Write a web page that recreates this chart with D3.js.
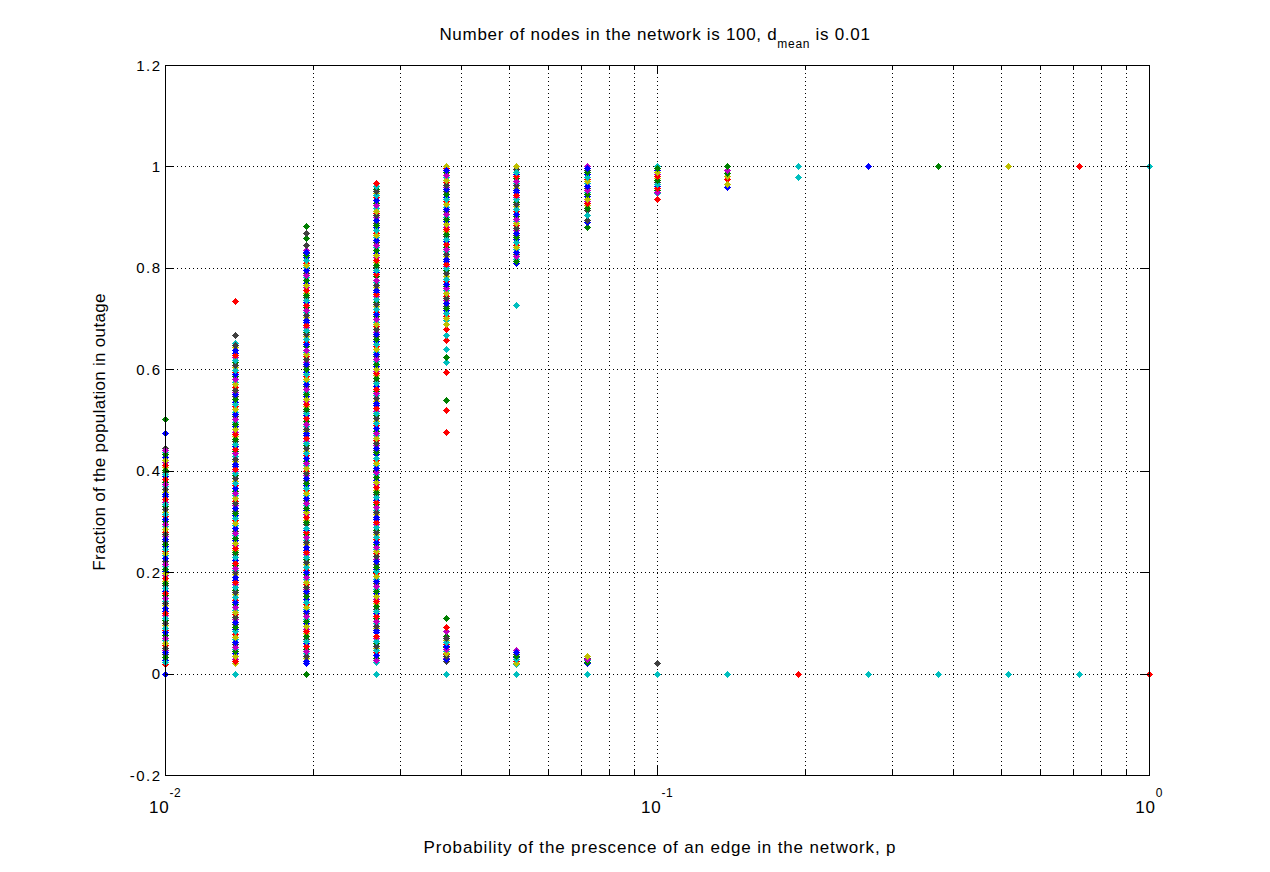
<!DOCTYPE html>
<html><head><meta charset="utf-8">
<script src="https://cdn.jsdelivr.net/npm/d3@7/dist/d3.min.js"></script>
<style>
body{margin:0;background:#fff}
text{font-family:"Liberation Sans",Arial,Helvetica,sans-serif;fill:#000}
</style>
</head><body>
<svg id="chart" width="1270" height="872"></svg>
<script>
// ---------------- DATA ----------------
const pValues = [0.01,0.01389,0.01931,0.02683,0.03728,0.05179,0.07197,0.1,0.1389,0.1931,0.2683,0.3728,0.5179,0.7197,1.0];

// dense clouds of trial outcomes (fraction in outage)
const band_p0 = [0.018,0.027,0.038,0.046,0.057,0.066,0.077,0.085,0.096,0.105,0.116,0.124,0.135,0.144,0.155,0.163,0.174,0.183,0.194,0.202,0.213,0.222,0.233,0.241,0.252,0.261,0.272,0.28,0.291,0.3,0.311,0.319,0.33,0.339,0.35,0.358,0.369,0.378,0.389,0.397,0.408,0.417,0.428,0.436,0.445];
const band_p0b = [0.022,0.032,0.042,0.051,0.061,0.071,0.081,0.09,0.1,0.11,0.12,0.129,0.139,0.149,0.159,0.168,0.178,0.188,0.198,0.207,0.217,0.227,0.237,0.246,0.256,0.266,0.276,0.285,0.295,0.305,0.315,0.324,0.334,0.344,0.354,0.363,0.373,0.383,0.393,0.402,0.412,0.422,0.432,0.44];
const band_p1 = [0.02,0.029,0.04,0.048,0.059,0.068,0.079,0.087,0.098,0.107,0.118,0.126,0.137,0.146,0.157,0.165,0.176,0.185,0.196,0.204,0.215,0.224,0.235,0.243,0.254,0.263,0.274,0.282,0.293,0.302,0.313,0.321,0.332,0.341,0.352,0.36,0.371,0.38,0.391,0.399,0.41,0.419,0.43,0.438,0.449,0.458,0.469,0.477,0.488,0.497,0.508,0.516,0.527,0.536,0.547,0.555,0.566,0.575,0.586,0.594,0.605,0.614,0.625,0.633,0.644,0.652];
const band_p1b = [0.024,0.034,0.044,0.053,0.063,0.073,0.083,0.092,0.102,0.112,0.122,0.131,0.141,0.151,0.161,0.17,0.18,0.19,0.2,0.209,0.219,0.229,0.239,0.248,0.258,0.268,0.278,0.287,0.297,0.307,0.317,0.326,0.336,0.346,0.356,0.365,0.375,0.385,0.395,0.404,0.414,0.424,0.434,0.443,0.453,0.463,0.473,0.482,0.492,0.502,0.512,0.521,0.531,0.541,0.551,0.56,0.57,0.58,0.59,0.599,0.609,0.619,0.629,0.638,0.648];
const band_p2 = [0.021,0.03,0.041,0.049,0.06,0.069,0.08,0.088,0.099,0.108,0.119,0.127,0.138,0.147,0.158,0.166,0.177,0.186,0.197,0.205,0.216,0.225,0.236,0.244,0.255,0.264,0.275,0.283,0.294,0.303,0.314,0.322,0.333,0.342,0.353,0.361,0.372,0.381,0.392,0.4,0.411,0.42,0.431,0.439,0.45,0.459,0.47,0.478,0.489,0.498,0.509,0.517,0.528,0.537,0.548,0.556,0.567,0.576,0.587,0.595,0.606,0.615,0.626,0.634,0.645,0.654,0.665,0.673,0.684,0.693,0.704,0.712,0.723,0.732,0.743,0.751,0.762,0.771,0.782,0.79,0.801,0.81,0.821,0.829,0.836];
const band_p2b = [0.025,0.035,0.045,0.054,0.064,0.074,0.084,0.093,0.103,0.113,0.123,0.132,0.142,0.152,0.162,0.171,0.181,0.191,0.201,0.21,0.22,0.23,0.24,0.249,0.259,0.269,0.279,0.288,0.298,0.308,0.318,0.327,0.337,0.347,0.357,0.366,0.376,0.386,0.396,0.405,0.415,0.425,0.435,0.444,0.454,0.464,0.474,0.483,0.493,0.503,0.513,0.522,0.532,0.542,0.552,0.561,0.571,0.581,0.591,0.6,0.61,0.62,0.63,0.639,0.649,0.659,0.669,0.678,0.688,0.698,0.708,0.717,0.727,0.737,0.747,0.756,0.766,0.776,0.786,0.795,0.805,0.815,0.825,0.832];
const band_p3 = [0.022,0.031,0.042,0.05,0.061,0.07,0.081,0.089,0.1,0.109,0.12,0.128,0.139,0.148,0.159,0.167,0.178,0.187,0.198,0.206,0.217,0.226,0.237,0.245,0.256,0.265,0.276,0.284,0.295,0.304,0.315,0.323,0.334,0.343,0.354,0.362,0.373,0.382,0.393,0.401,0.412,0.421,0.432,0.44,0.451,0.46,0.471,0.479,0.49,0.499,0.51,0.518,0.529,0.538,0.549,0.557,0.568,0.577,0.588,0.596,0.607,0.616,0.627,0.635,0.646,0.655,0.666,0.674,0.685,0.694,0.705,0.713,0.724,0.733,0.744,0.752,0.763,0.772,0.783,0.791,0.802,0.811,0.822,0.83,0.841,0.85,0.861,0.869,0.88,0.889,0.9,0.908,0.919,0.928,0.939,0.947,0.955];
const band_p3b = [0.026,0.036,0.046,0.055,0.065,0.075,0.085,0.094,0.104,0.114,0.124,0.133,0.143,0.153,0.163,0.172,0.182,0.192,0.202,0.211,0.221,0.231,0.241,0.25,0.26,0.27,0.28,0.289,0.299,0.309,0.319,0.328,0.338,0.348,0.358,0.367,0.377,0.387,0.397,0.406,0.416,0.426,0.436,0.445,0.455,0.465,0.475,0.484,0.494,0.504,0.514,0.523,0.533,0.543,0.553,0.562,0.572,0.582,0.592,0.601,0.611,0.621,0.631,0.64,0.65,0.66,0.67,0.679,0.689,0.699,0.709,0.718,0.728,0.738,0.748,0.757,0.767,0.777,0.787,0.796,0.806,0.816,0.826,0.835,0.845,0.855,0.865,0.874,0.884,0.894,0.904,0.913,0.923,0.933,0.943,0.951];
const band_p4_high = [0.697,0.706,0.717,0.725,0.736,0.745,0.756,0.764,0.775,0.784,0.795,0.803,0.814,0.823,0.834,0.842,0.853,0.862,0.873,0.881,0.892,0.901,0.912,0.92,0.931,0.94,0.951,0.959,0.97,0.979,0.99,0.996,1.0];
const band_p4_highb = [0.701,0.711,0.721,0.73,0.74,0.75,0.76,0.769,0.779,0.789,0.799,0.808,0.818,0.828,0.838,0.847,0.857,0.867,0.877,0.886,0.896,0.906,0.916,0.925,0.935,0.945,0.955,0.964,0.974,0.984,0.993];
const band_p4_low = [0.024,0.031,0.038,0.045,0.052,0.059,0.066,0.074];
const band_p4_lowb = [0.028,0.035,0.041,0.048,0.055,0.062,0.07];
const band_p5_high = [0.809,0.818,0.828,0.837,0.846,0.856,0.865,0.874,0.884,0.893,0.902,0.912,0.921,0.93,0.94,0.949,0.958,0.968,0.977,0.986,0.994,1.0];
const band_p5_highb = [0.813,0.823,0.832,0.841,0.851,0.86,0.869,0.879,0.888,0.897,0.907,0.916,0.925,0.935,0.944,0.953,0.963,0.972,0.981,0.99];
const band_p5_low = [0.018,0.025,0.032,0.039,0.047];
const band_p5_lowb = [0.021,0.028,0.035,0.043];
const band_p6_high = [0.915,0.923,0.932,0.941,0.95,0.958,0.967,0.976,0.985,0.993,1.0];
const band_p6_highb = [0.919,0.927,0.936,0.945,0.954,0.962,0.971,0.98,0.989,0.997];
const band_p6_low = [0.02,0.026,0.03];
const band_p6_lowb = [0.023,0.028];
const band_p7_high = [0.947,0.954,0.962,0.97,0.978,0.986,0.993,1.0];
const band_p7_highb = [0.95,0.958,0.966,0.974,0.982,0.99,0.997];
const band_p8_high = [0.975,0.981,0.987,0.992];

const bandColumn = [0,0,1,1,2,2,3,3,4,4,4,4,5,5,5,5,6,6,6,6,7,7,8];
const bands = [band_p0,band_p0b,band_p1,band_p1b,band_p2,band_p2b,band_p3,band_p3b,
  band_p4_high,band_p4_highb,band_p4_low,band_p4_lowb,band_p5_high,band_p5_highb,band_p5_low,band_p5_lowb,
  band_p6_high,band_p6_highb,band_p6_low,band_p6_lowb,band_p7_high,band_p7_highb,band_p8_high];

// isolated outcomes: column index, value, series (colour) index
const outlierColumn = [0,0,0, 1,1,1, 2,2,2,2,2, 3,3,3, 4,4,4,4,4,4,4,4,4,4,4,4,4,4,4, 5,5, 6,6,6,6,6,6, 7,7,7, 8,8,8,8, 9,9,9, 10,10, 11,11, 12,12, 13,13, 14,14];
const outlierValue  = [0,0.474,0.502, 0,0.667,0.735, 0,0.845,0.858,0.868,0.882, 0,0.962,0.968, 0,0.083,0.092,0.11,0.476,0.52,0.539,0.594,0.614,0.624,0.64,0.657,0.667,0.68,0.69, 0,0.726, 0,0.035,0.88,0.89,0.895,0.905, 0,0.02,0.935, 0,0.96,0.966,1.0, 0,0.98,1.0, 0,1.0, 0,1.0, 0,1.0, 0,1.0, 0,1.0];
const outlierSeries = [0,0,1, 3,6,2, 1,6,1,6,1, 3,3,2, 3,4,2,1,2,2,1,2,3,1,3,2,3,2,5, 3,3, 3,5,1,0,6,3, 3,6,2, 3,0,5,1, 2,3,3, 3,0, 3,1, 3,5, 3,2, 2,3];

// series colours (MATLAB default colour order) and the mixing order seen in the clouds
const seriesColors = ["#0000ff","#008000","#ff0000","#00bfbf","#bf00bf","#bfbf00","#404040"];
const mixOrder = [2,5,0,3,6,1,4,0,2,6,3,5,1,4,2,0,5,3,1,6,4,3,0];

const yTicks = [-0.2,0,0.2,0.4,0.6,0.8,1,1.2];
const yTickLabels = ["-0.2","0","0.2","0.4","0.6","0.8","1","1.2"];
const xMajorTicks = [0.01,0.1,1];
const xTickExponents = ["-2","-1","0"];
const xMinorTicks = [0.02,0.03,0.04,0.05,0.06,0.07,0.08,0.09,0.2,0.3,0.4,0.5,0.6,0.7,0.8,0.9];

const titleMain = "Number of nodes in the network is 100, d";
const titleSub = "mean";
const titleEnd = " is 0.01";
const xLabel = "Probability of the prescence of an edge in the network, p";
const yLabel = "Fraction of the population in outage";

// ---------------- DRAWING ----------------
const L = 165, R = 1149, T = 65, B = 775;
const svg = d3.select("#chart");
const x = d3.scaleLog().domain([0.01, 1]).range([L, R]);
const y = d3.scaleLinear().domain([-0.2, 1.2]).range([B, T]);
const px = v => Math.round(v) + 0.5;

// grid
const grid = svg.append("g").attr("stroke", "#000").attr("stroke-width", 1).attr("stroke-dasharray", "1,3").attr("shape-rendering", "crispEdges");
grid.selectAll("line.gx").data(xMajorTicks.concat(xMinorTicks).filter(d => d > 0.01 && d < 1)).enter().append("line")
  .attr("x1", d => px(x(d))).attr("x2", d => px(x(d))).attr("y1", T).attr("y2", B);
grid.selectAll("line.gy").data(yTicks.filter(d => d > -0.2 && d < 1.2)).enter().append("line")
  .attr("y1", d => px(y(d))).attr("y2", d => px(y(d))).attr("x1", L).attr("x2", R);

// markers
const diamond = (cx, cy, r) => `M${cx},${cy - r}L${cx + r},${cy}L${cx},${cy + r}L${cx - r},${cy}Z`;
const marks = svg.append("g").attr("shape-rendering", "crispEdges");
const points = [];
bands.forEach((band, bi) => {
  const c = bandColumn[bi];
  band.forEach((v, i) => points.push({p: pValues[c], v: v, s: mixOrder[(i * 2 + c * 5 + bi * 3) % mixOrder.length]}));
});
outlierColumn.forEach((c, i) => points.push({p: pValues[c], v: outlierValue[i], s: outlierSeries[i]}));
marks.selectAll("path").data(points).enter().append("path")
  .attr("d", d => diamond(Math.round(x(d.p)) + 0.5, Math.round(y(d.v)) + 0.5, 3.5))
  .attr("fill", d => seriesColors[d.s]);

// box
const axes = svg.append("g").attr("stroke", "#000").attr("stroke-width", 1).attr("shape-rendering", "crispEdges").attr("fill", "none");
axes.append("rect").attr("x", L + 0.5).attr("y", T + 0.5).attr("width", R - L).attr("height", B - T);

// ticks (inward, mirrored on all sides)
xMajorTicks.forEach(d => {
  const xx = px(x(d));
  axes.append("line").attr("x1", xx).attr("x2", xx).attr("y1", B).attr("y2", B - 9);
  axes.append("line").attr("x1", xx).attr("x2", xx).attr("y1", T).attr("y2", T + 9);
});
xMinorTicks.forEach(d => {
  const xx = px(x(d));
  axes.append("line").attr("x1", xx).attr("x2", xx).attr("y1", B).attr("y2", B - 5);
  axes.append("line").attr("x1", xx).attr("x2", xx).attr("y1", T).attr("y2", T + 5);
});
yTicks.forEach(d => {
  const yy = px(y(d));
  axes.append("line").attr("y1", yy).attr("y2", yy).attr("x1", L).attr("x2", L + 9);
  axes.append("line").attr("y1", yy).attr("y2", yy).attr("x1", R).attr("x2", R - 9);
});

// y tick labels
svg.append("g").selectAll("text").data(yTicks).enter().append("text")
  .attr("x", 161.5).attr("y", d => y(d) + 5.5)
  .attr("text-anchor", "end").style("font-size", "15px").style("letter-spacing", "1.5px")
  .text((d, i) => yTickLabels[i]);

// x tick labels: 10^exp
xMajorTicks.forEach((d, i) => {
  const t = svg.append("text").attr("x", x(d)).attr("y", 813).attr("text-anchor", "middle").style("font-size", "17px").style("letter-spacing", "0.8px");
  t.append("tspan").text("10");
  t.append("tspan").attr("dy", -16).style("font-size", "12px").style("letter-spacing", "0.5px").text(xTickExponents[i]);
});

// title
const title = svg.append("text").attr("x", (L + R) / 2 - 2).attr("y", 40).attr("text-anchor", "middle").style("font-size", "17px").style("letter-spacing", "0.7px");
title.append("tspan").text(titleMain);
title.append("tspan").attr("dy", 8).style("font-size", "12px").text(titleSub);
title.append("tspan").attr("dy", -8).text(titleEnd);

// axis labels
svg.append("text").attr("x", 660).attr("y", 853).attr("text-anchor", "middle").style("font-size", "17px").style("letter-spacing", "0.85px").text(xLabel);
svg.append("text").attr("transform", "translate(105,432) rotate(-90)").attr("text-anchor", "middle").style("font-size", "17px").style("letter-spacing", "0.3px").text(yLabel);
</script>
</body></html>
